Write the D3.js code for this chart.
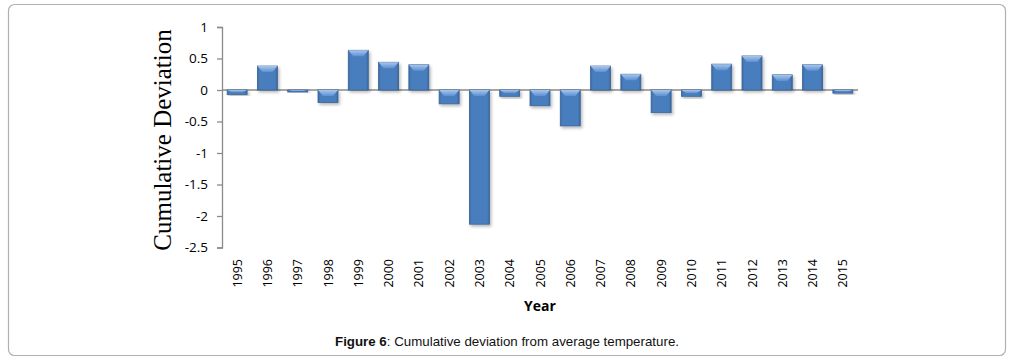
<!DOCTYPE html>
<html>
<head>
<meta charset="utf-8">
<script src="https://cdn.jsdelivr.net/npm/d3@7"></script>
<style>
  html, body { margin: 0; padding: 0; background: #fff; }
  svg { display: block; }
</style>
</head>
<body>
<svg id="chart" width="1012" height="364"></svg>
<script>
const years = ["1995","1996","1997","1998","1999","2000","2001","2002","2003","2004","2005","2006","2007","2008","2009","2010","2011","2012","2013","2014","2015"];
const deviation = [-0.07, 0.38, -0.02, -0.20, 0.63, 0.44, 0.40, -0.22, -2.13, -0.10, -0.25, -0.57, 0.38, 0.25, -0.36, -0.10, 0.41, 0.54, 0.24, 0.40, -0.05];
const yTicks = [1, 0.5, 0, -0.5, -1, -1.5, -2, -2.5];
const yTickLabels = ["1", "0.5", "0", "-0.5", "-1", "-1.5", "-2", "-2.5"];
const yLabel = "Cumulative Deviation";
const xLabel = "Year";
const captionBold = "Figure 6";
const captionRest = ": Cumulative deviation from average temperature.";

const svg = d3.select("#chart");

// outer frame
svg.append("rect")
  .attr("x", 8.5).attr("y", 4.5).attr("width", 997).attr("height", 351)
  .attr("rx", 6).attr("ry", 6)
  .attr("fill", "#fff").attr("stroke", "#b0b0b0").attr("stroke-width", 1.2);

const x = d3.scaleBand().domain(years).range([222, 858]).paddingInner(0.34).paddingOuter(0.17);
const y = d3.scaleLinear().domain([-2.5, 1]).range([247.5, 27]);

const defs = svg.append("defs");
const f = defs.append("filter").attr("id", "shadow").attr("x", "-30%").attr("y", "-30%").attr("width", "160%").attr("height", "160%");
f.append("feDropShadow").attr("dx", 1.5).attr("dy", 2).attr("stdDeviation", 1.5)
  .attr("flood-color", "#000").attr("flood-opacity", 0.28);

const g1 = defs.append("linearGradient").attr("id", "barGrad").attr("x1", 0).attr("x2", 1).attr("y1", 0).attr("y2", 0);
g1.append("stop").attr("offset", "0%").attr("stop-color", "#3c6aa3");
g1.append("stop").attr("offset", "12%").attr("stop-color", "#4a7ebe");
g1.append("stop").attr("offset", "88%").attr("stop-color", "#4a7ebe");
g1.append("stop").attr("offset", "100%").attr("stop-color", "#3a659c");
const g2 = defs.append("linearGradient").attr("id", "bevelGrad").attr("x1", 0).attr("x2", 0).attr("y1", 0).attr("y2", 1);
g2.append("stop").attr("offset", "0%").attr("stop-color", "#a9c6ec");
g2.append("stop").attr("offset", "100%").attr("stop-color", "#5c90d2");

// zero line
svg.append("line")
  .attr("x1", 222).attr("x2", 858).attr("y1", y(0)).attr("y2", y(0))
  .attr("stroke", "#8a8a8a").attr("stroke-width", 1.3);

// y axis
const yAxis = d3.axisLeft(y).tickValues(yTicks).tickSize(5).tickPadding(9)
  .tickFormat((d, i) => yTickLabels[i]);
const ya = svg.append("g").attr("transform", "translate(222,0)").call(yAxis);
ya.select(".domain").attr("stroke", "#8a8a8a").attr("stroke-width", 1.3);
ya.selectAll(".tick line").attr("stroke", "#8a8a8a").attr("stroke-width", 1.3);
ya.selectAll(".tick text").attr("font-family", "'Open Sans', 'Liberation Sans', sans-serif")
  .attr("font-size", 13.5).attr("fill", "#000");

// bars
const bars = svg.append("g").selectAll("g.bar").data(years).join("g").attr("class", "bar");
bars.each(function(yr, i) {
  const v = deviation[i];
  const gx = x(yr), w = x.bandwidth();
  const top = y(Math.max(0, v)), bot = y(Math.min(0, v));
  const h = Math.max(bot - top, 2);
  const g = d3.select(this);
  g.append("rect").attr("x", gx).attr("y", top).attr("width", w).attr("height", h)
    .attr("fill", "url(#barGrad)").attr("stroke", "#3a6496").attr("stroke-width", 0.8)
    .attr("filter", "url(#shadow)");
  const bh = Math.min(6, h / 2);
  const inset = Math.min(6, w / 4);
  g.append("path")
    .attr("d", `M${gx},${top} L${gx + w},${top} L${gx + w - inset},${top + bh} L${gx + inset},${top + bh} Z`)
    .attr("fill", "url(#bevelGrad)");
});

// x labels
svg.append("g").selectAll("text").data(years).join("text")
  .attr("transform", d => `translate(${x(d) + x.bandwidth() / 2 + 4.5},259) rotate(-90)`)
  .attr("text-anchor", "end")
  .attr("font-family", "'Open Sans', 'Liberation Sans', sans-serif")
  .attr("font-size", 12.5).attr("fill", "#000")
  .text(d => d);

// axis titles
svg.append("text")
  .attr("transform", "translate(171,140) rotate(-90)")
  .attr("text-anchor", "middle")
  .attr("font-family", "'Liberation Serif', 'Times New Roman', serif")
  .attr("font-size", 25).attr("fill", "#000")
  .text(yLabel);

svg.append("text")
  .attr("x", 540).attr("y", 311).attr("text-anchor", "middle")
  .attr("font-family", "'Open Sans', 'Liberation Sans', sans-serif")
  .attr("font-weight", "bold").attr("font-size", 14).attr("fill", "#000")
  .text(xLabel);

// caption
const cap = svg.append("text")
  .attr("x", 507).attr("y", 346).attr("text-anchor", "middle")
  .attr("font-family", "'Liberation Sans', Arial, sans-serif")
  .attr("font-size", 13).attr("fill", "#111")
  .attr("textLength", 344).attr("lengthAdjust", "spacingAndGlyphs");
cap.append("tspan").attr("font-weight", "bold").text(captionBold);
cap.append("tspan").text(captionRest);
</script>
</body>
</html>
